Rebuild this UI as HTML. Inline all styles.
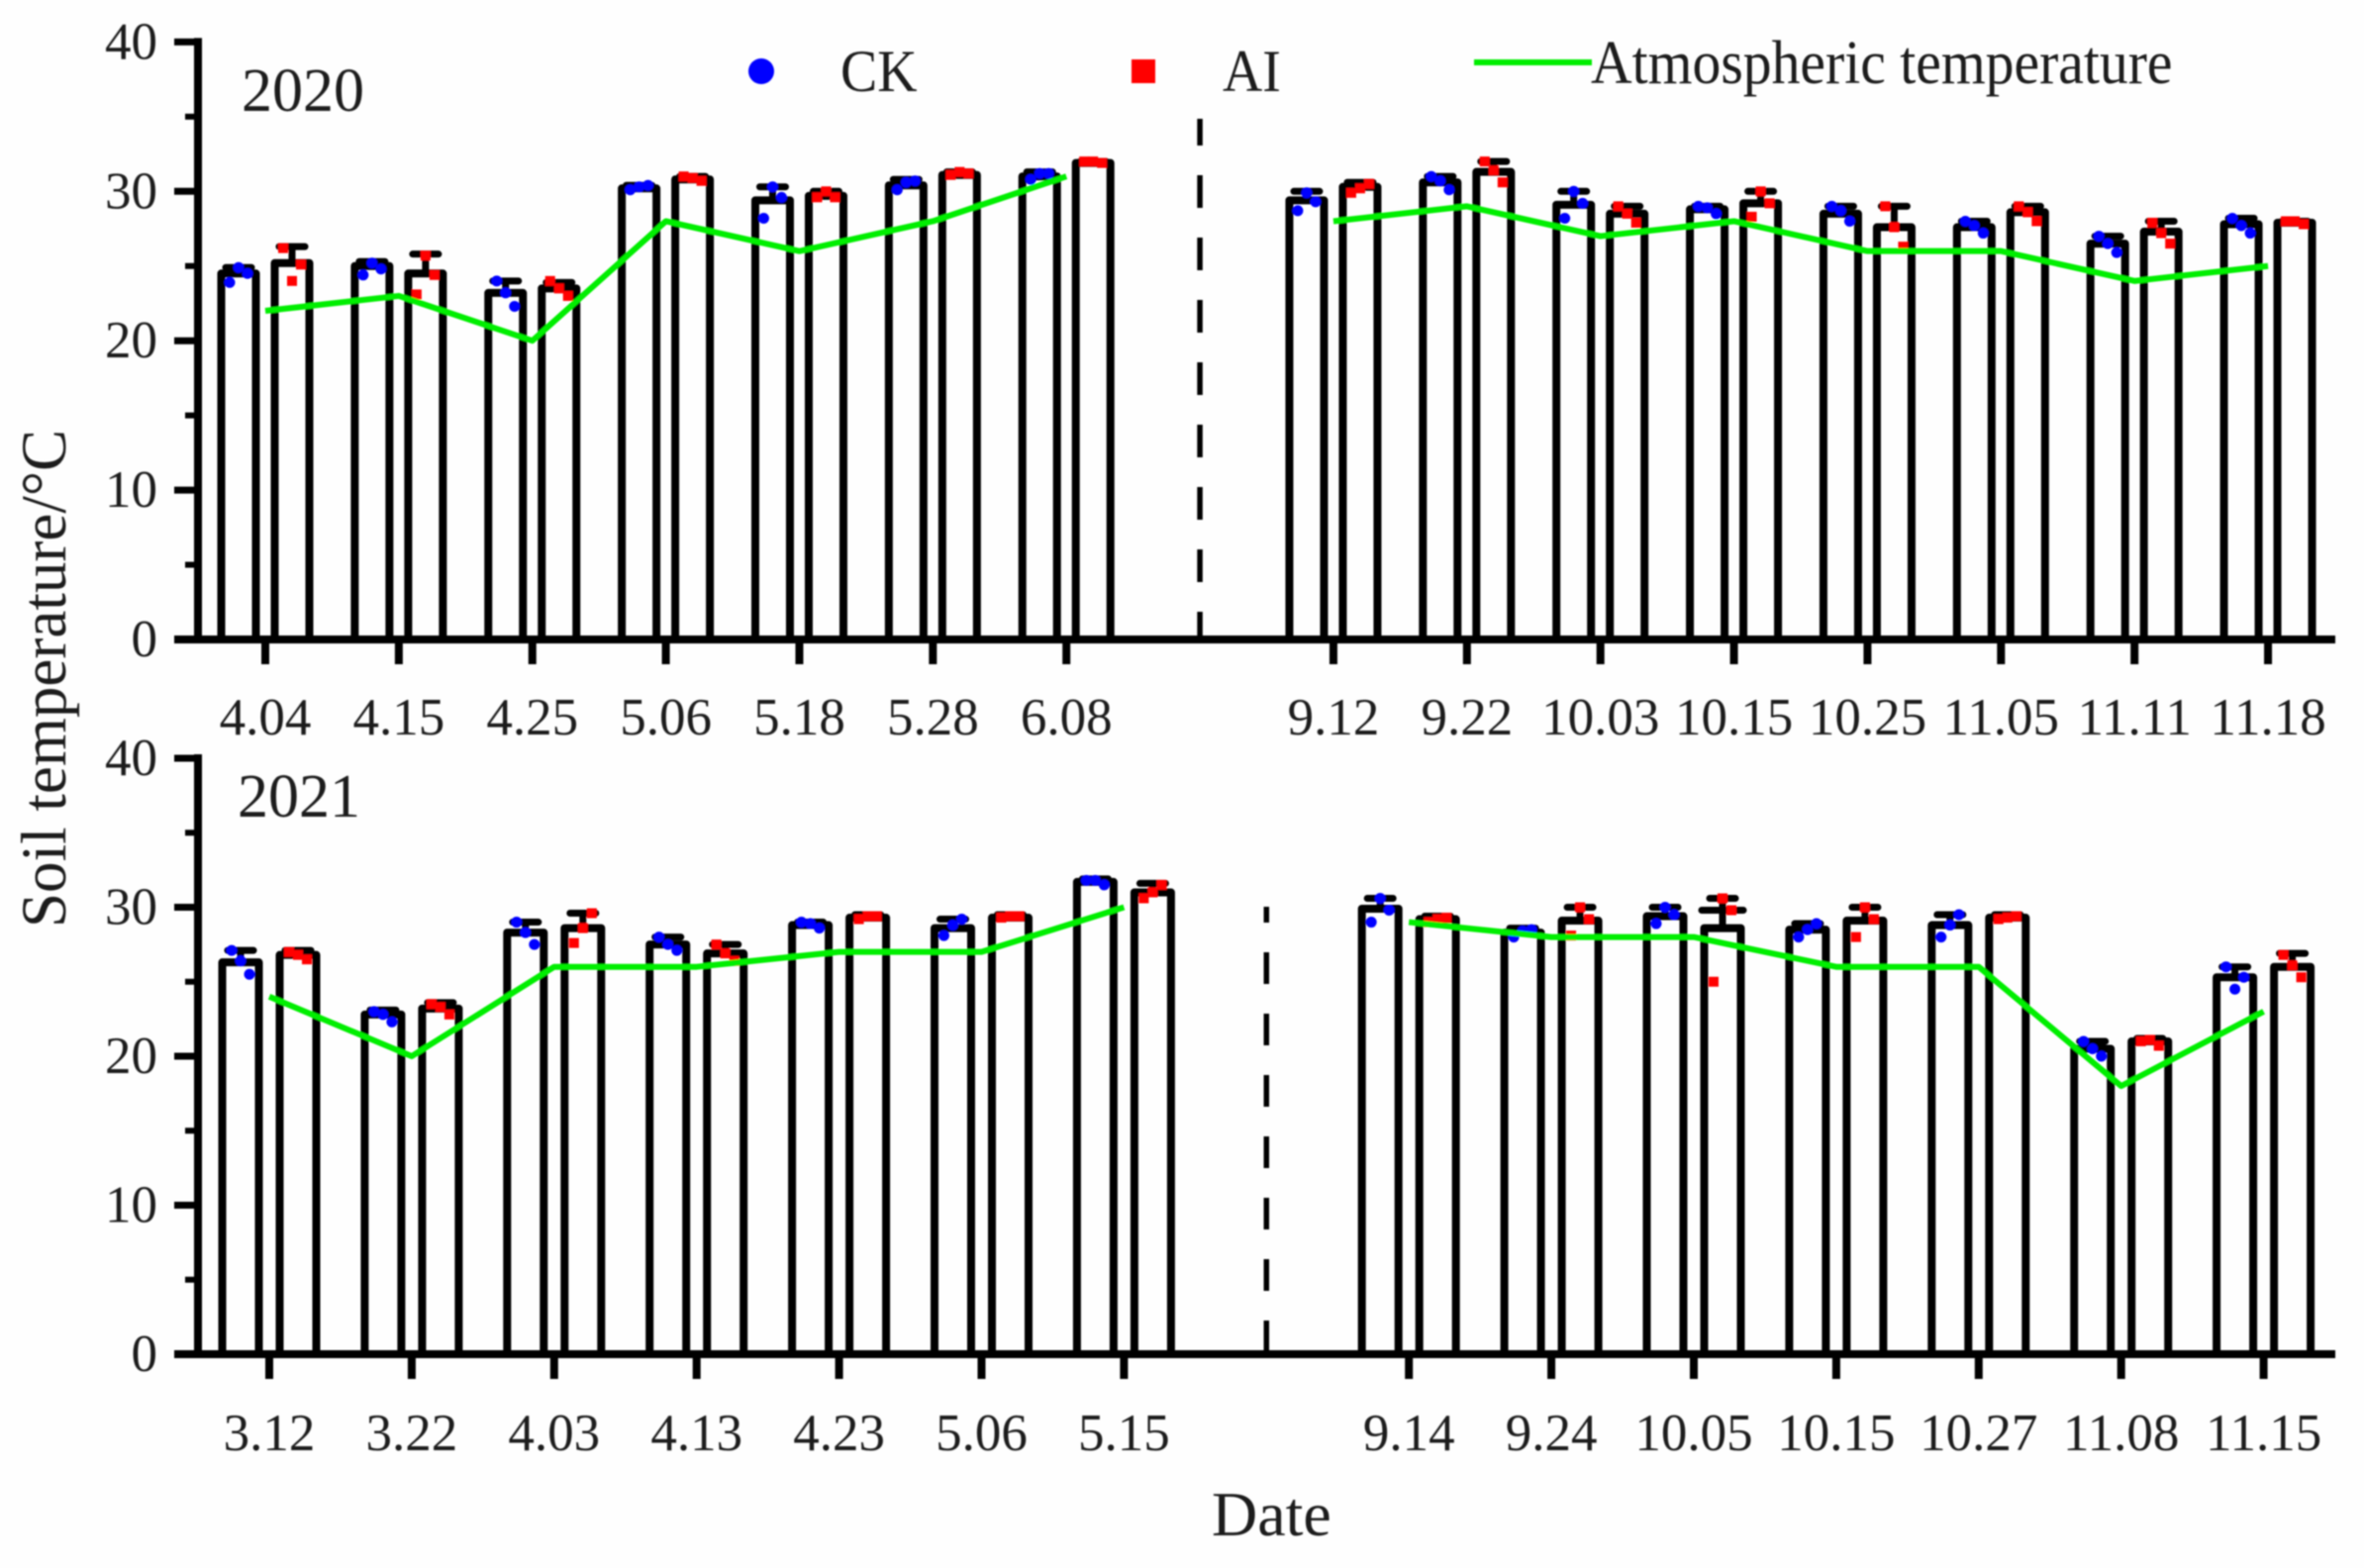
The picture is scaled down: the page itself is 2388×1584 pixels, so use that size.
<!DOCTYPE html>
<html lang="en">
<head>
<meta charset="utf-8">
<title>Soil temperature 2020 and 2021</title>
<style>
html,body{margin:0;padding:0;background:#fff;}
svg{display:block;}
text{font-family:"Liberation Serif",serif;fill:#1c1c1c;}
</style>
</head>
<body>
<svg id="chart" xmlns="http://www.w3.org/2000/svg" width="2388" height="1584" viewBox="0 0 2388 1584">
  <defs><filter id="soft" x="-2%" y="-2%" width="104%" height="104%"><feGaussianBlur stdDeviation="0.8"/></filter></defs>
  <rect x="0" y="0" width="2388" height="1584" fill="#fefefe"/>
  <g id="root" filter="url(#soft)">
    <g>
      <circle cx="769" cy="72" r="13" fill="#0000ff"/>
      <text transform="translate(849,92) scale(0.93,1)" font-size="60">CK</text>
      <rect x="1143" y="60" width="24" height="24" fill="#ff0000"/>
      <text transform="translate(1235,92) scale(0.93,1)" font-size="60">AI</text>
      <line x1="1489" y1="63" x2="1608" y2="63" stroke="#00ee00" stroke-width="6"/>
      <text transform="translate(1607,84) scale(0.93,1)" font-size="62">Atmospheric temperature</text>
    </g>
    <text x="244" y="112" font-size="62">2020</text>
    <text x="240" y="825" font-size="62">2021</text>
    <text transform="translate(66,937) rotate(-90) scale(0.97,1)" font-size="65">Soil temperature/°C</text>
    <text x="1224" y="1551" font-size="64">Date</text>
  </g>
</svg>
<script>
// Shared axis ticks
const yTickLabels = [0, 10, 20, 30, 40];
const yMinorTicks = [5, 15, 25, 35];

// 2020 panel (null = gap between spring and autumn groups)
const categories2020 = ["4.04","4.15","4.25","5.06","5.18","5.28","6.08",null,"9.12","9.22","10.03","10.15","10.25","11.05","11.11","11.18"];
const ckMeans2020 = [24.5,25.0,23.2,30.2,29.4,30.4,31.0,null,29.4,30.6,29.1,28.8,28.5,27.6,26.5,27.8];
const ckErrTop2020 = [24.9,25.3,24.0,30.4,30.3,30.8,31.3,null,30.0,31.0,30.0,29.0,29.0,28.0,27.0,28.2];
const ckPoints2020 = [[23.9,24.9,24.5],[24.4,25.2,24.8],[24.0,23.2,22.3],[30.1,30.3,30.4],[28.2,30.3,29.6],[30.1,30.6,30.7],[30.8,31.2,31.2],null,[28.7,29.9,29.3],[31.0,30.7,30.1],[28.2,30.0,29.2],[29.0,28.9,28.5],[29.0,28.7,28.0],[28.0,27.7,27.2],[27.0,26.5,25.9],[28.2,27.7,27.2]];
const aiMeans2020 = [25.2,24.5,23.5,30.8,29.7,31.1,31.9,null,30.3,31.3,28.5,29.2,27.6,28.6,27.3,27.9];
const aiErrTop2020 = [26.3,25.8,23.9,31.0,30.0,31.3,32.0,null,30.6,32.0,29.0,30.0,29.0,29.0,28.0,28.0];
const aiPoints2020 = [[26.2,24.0,25.1],[23.1,25.7,24.4],[24.0,23.5,23.0],[31.0,30.9,30.7],[29.6,30.0,29.6],[31.1,31.3,31.2],[32.0,32.0,31.9],null,[29.9,30.2,30.5],[32.0,31.4,30.6],[29.0,28.5,27.9],[28.3,30.0,29.2],[29.0,27.6,26.3],[29.0,28.6,28.0],[27.9,27.2,26.5],[28.0,28.0,27.8]];
const airTemp2020 = [22,23,20,28,26,28,31,null,28,29,27,28,26,26,24,25];
const extraCaps2020 = [null,null,null,null,null,null,null,null,null,null,null,null,null,null,null,null];

// 2021 panel
const categories2021 = ["3.12","3.22","4.03","4.13","4.23","5.06","5.15",null,"9.14","9.24","10.05","10.15","10.27","11.08","11.15"];
const ckMeans2021 = [26.3,22.8,28.3,27.5,28.8,28.6,31.7,null,29.9,28.3,29.4,28.5,28.8,20.5,25.3];
const ckErrTop2021 = [27.1,23.1,29.0,28.0,29.0,29.2,31.9,null,30.6,28.6,30.0,28.9,29.5,21.0,26.0];
const ckPoints2021 = [[27.1,26.4,25.5],[23.0,22.8,22.3],[29.0,28.3,27.5],[28.0,27.5,27.1],[29.0,28.9,28.6],[28.1,28.8,29.2],[31.8,31.8,31.5],null,[29.0,30.6,29.8],[28.0,28.4,28.5],[28.9,30.0,29.5],[28.0,28.5,28.9],[28.0,28.8,29.5],[21.0,20.5,20.0],[26.0,24.5,25.3]];
const aiMeans2021 = [26.8,23.2,28.6,26.9,29.3,29.3,31.0,null,29.2,29.1,28.6,29.1,29.3,21.0,26.0];
const aiErrTop2021 = [27.1,23.6,29.6,27.5,29.5,29.5,31.6,null,29.4,30.0,30.6,30.0,29.5,21.2,26.9];
const aiPoints2021 = [[27.0,26.8,26.5],[23.5,23.3,22.8],[27.6,28.6,29.6],[27.5,26.9,26.4],[29.2,29.4,29.4],[29.3,29.4,29.4],[30.6,31.0,31.5],null,[29.0,29.2,29.3],[28.1,30.0,29.2],[25.0,30.6,29.8],[28.0,30.0,29.2],[29.2,29.3,29.4],[21.0,21.1,20.7],[26.8,26.1,25.3]];
const airTemp2021 = [24,20,26,26,27,27,30,null,29,28,28,26,26,18,23];
const extraCaps2021 = [null,null,null,null,null,null,null,null,null,null,29.8,null,null,null,null];

const NS = "http://www.w3.org/2000/svg";
const root = document.getElementById("root");

function make(tag, attrs, parent) {
  const el = document.createElementNS(NS, tag);
  for (const k in attrs) el.setAttribute(k, attrs[k]);
  parent.appendChild(el);
  return el;
}

function drawBar(g, x, halfW, zeroY, topY, errY, extraY, labelName) {
  const bar = make("path", {d: "M" + (x - halfW) + " " + zeroY + "V" + topY + "H" + (x + halfW) + "V" + zeroY, fill: "none", stroke: "#000", "stroke-width": 8, "stroke-linejoin": "round"}, g);
  
  
  const stem = make("line", {x1: x, x2: x, y1: topY, y2: errY, stroke: "#000", "stroke-width": 7}, g);
  
  
  const cap = make("line", {x1: x - 13, x2: x + 13, y1: errY, y2: errY, stroke: "#000", "stroke-width": 7, "stroke-linecap": "round"}, g);
  
  
  if (extraY !== null) {
    const extra = make("line", {x1: x - 21, x2: x + 21, y1: extraY, y2: extraY, stroke: "#000", "stroke-width": 7, "stroke-linecap": "round"}, g);
    
    
  }
}

function drawPanel(p) {
  const g = make("g", {}, root);
  
  
  const X = i => p.x0 + i * p.step;
  const Y = v => p.zeroY - v * p.unit;

  // gap divider
  const gapIndex = p.categories.indexOf(null);
  const divider = make("line", {x1: X(gapIndex), x2: X(gapIndex), y1: p.dashTop, y2: p.zeroY, stroke: "#000", "stroke-width": 5.5, "stroke-dasharray": p.dashPattern, "stroke-dashoffset": p.dashOffset}, g);
  
  

  // bars + error bars
  p.categories.forEach((c, i) => {
    if (c === null) return;
    drawBar(g, X(i) - p.off, p.halfW, p.zeroY, Y(p.ckMeans[i]), Y(p.ckErr[i]), null, 'ck-' + c);
    drawBar(g, X(i) + p.off, p.halfW, p.zeroY, Y(p.aiMeans[i]), Y(p.aiErr[i]), p.extraCaps[i] === null ? null : Y(p.extraCaps[i]), 'ai-' + c);
  });

  // axes
  const yAxis = make("line", {x1: 200, x2: 200, y1: Y(40) - 4, y2: p.zeroY, stroke: "#000", "stroke-width": 8}, g);
  
  
  const xAxis = make("line", {x1: 176, x2: 2359, y1: p.zeroY, y2: p.zeroY, stroke: "#000", "stroke-width": 8}, g);
  
  

  yTickLabels.forEach(v => {
    const t = make("line", {x1: 176, x2: 200, y1: Y(v), y2: Y(v), stroke: "#000", "stroke-width": 7}, g);
    
    
    const lb = make("text", {transform: "translate(159," + (Y(v) + 17) + ")", "font-size": 53, "text-anchor": "end"}, g);
    lb.textContent = String(v);
    
    
  });
  yMinorTicks.forEach(v => {
    const t = make("line", {x1: 187, x2: 200, y1: Y(v), y2: Y(v), stroke: "#000", "stroke-width": 6}, g);
    
    
  });
  p.categories.forEach((c, i) => {
    if (c === null) return;
    const t = make("line", {x1: X(i), x2: X(i), y1: p.zeroY, y2: p.zeroY + 25, stroke: "#000", "stroke-width": 8}, g);
    
    
    const lb = make("text", {transform: "translate(" + X(i) + "," + p.labelY + ")", "font-size": 53, "text-anchor": "middle"}, g);
    lb.textContent = c;
    
    
  });

  // points
  const spread = [-9, 0, 9];
  p.categories.forEach((c, i) => {
    if (c === null) return;
    p.ckPoints[i].forEach((v, k) => {
      const d = make("circle", {cx: X(i) - p.off + spread[k], cy: Y(v), r: 5.5, fill: "#0000ff"}, g);
      
      
    });
    p.aiPoints[i].forEach((v, k) => {
      const d = make("rect", {x: X(i) + p.off + spread[k] - 5, y: Y(v) - 5, width: 10, height: 10, fill: "#ff0000"}, g);
      
      
    });
  });

  // air temperature line
  let d = "", pen = false;
  p.air.forEach((v, i) => {
    if (v === null) { pen = false; return; }
    d += (pen ? "L" : "M") + X(i) + " " + Y(v);
    pen = true;
  });
  const air = make("path", {d: d, fill: "none", stroke: "#00ee00", "stroke-width": 6, "stroke-linejoin": "round"}, g);
  
  
}

drawPanel({year: "2020", categories: categories2020, ckMeans: ckMeans2020, ckErr: ckErrTop2020, ckPoints: ckPoints2020,
  aiMeans: aiMeans2020, aiErr: aiErrTop2020, aiPoints: aiPoints2020, air: airTemp2020, extraCaps: extraCaps2020,
  x0: 268, step: 134.87, zeroY: 646, unit: 15.09, off: 27, halfW: 17.5, dashTop: 120, dashPattern: "33 30", dashOffset: 6, labelY: 742});

drawPanel({year: "2021", categories: categories2021, ckMeans: ckMeans2021, ckErr: ckErrTop2021, ckPoints: ckPoints2021,
  aiMeans: aiMeans2021, aiErr: aiErrTop2021, aiPoints: aiPoints2021, air: airTemp2021, extraCaps: extraCaps2021,
  x0: 272, step: 143.9, zeroY: 1368, unit: 15.05, off: 29, halfW: 18.5, dashTop: 916, dashPattern: "32 30", dashOffset: 16, labelY: 1465});
</script>
</body>
</html>
